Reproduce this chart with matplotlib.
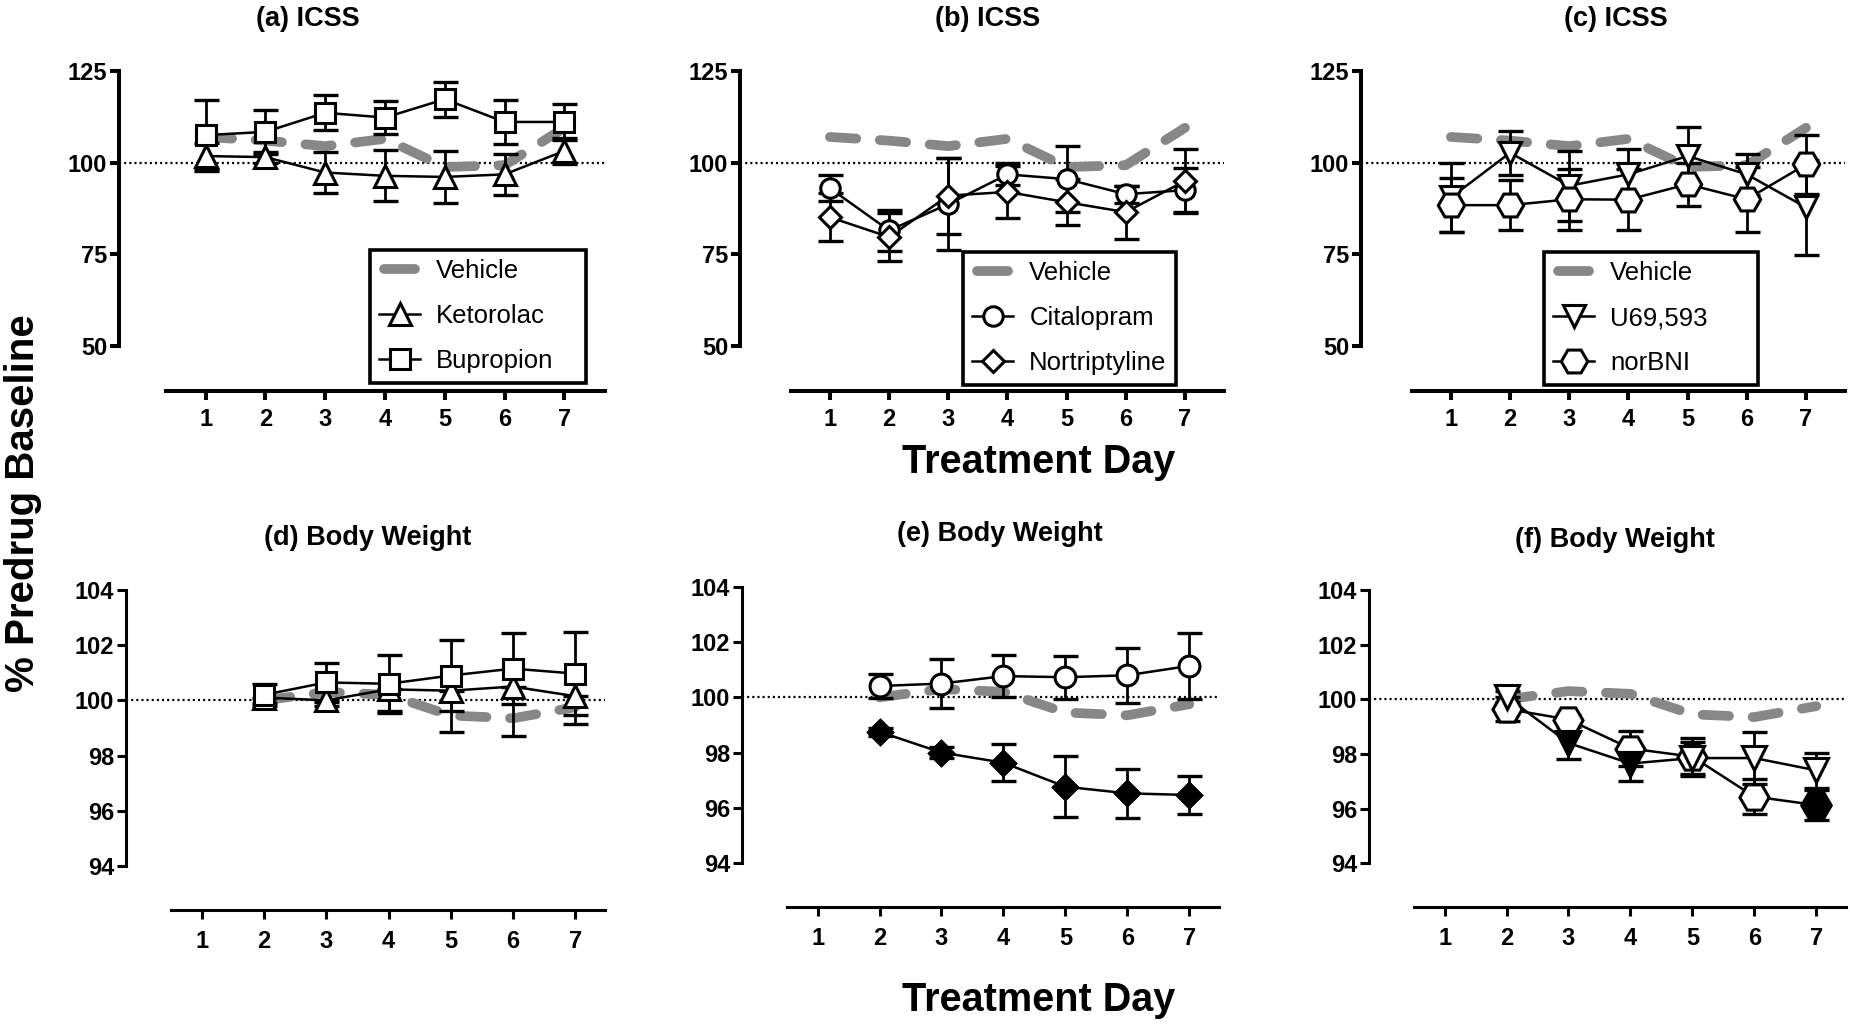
import matplotlib
matplotlib.use("Agg")
import numpy as np
from matplotlib import pyplot as plt
from matplotlib.legend_handler import HandlerLine2D
from matplotlib.lines import Line2D

plt.rcParams["font.family"] = ["Liberation Sans", "DejaVu Sans"]
plt.rcParams["font.weight"] = "bold"
plt.rcParams["lines.scale_dashes"] = False

# ---------------------------------------------------------------- data
days = [1, 2, 3, 4, 5, 6, 7]
bw_days = [2, 3, 4, 5, 6, 7]

icss_ticks = [50, 75, 100, 125]
bw_ticks = [94, 96, 98, 100, 102, 104]

# ICSS (% predrug baseline)
vehicle_icss = [107.0, 106.0, 104.5, 106.5, 98.8, 99.3, 109.5]
ketorolac_icss = [101.8, 101.5, 97.3, 96.4, 96.1, 96.8, 103.2]
ketorolac_icss_err = [3.5, 1.5, 5.6, 7.0, 7.0, 5.5, 3.5]
bupropion_icss = [107.5, 108.4, 113.6, 112.3, 117.3, 111.1, 111.1]
bupropion_icss_err = [9.7, 6.0, 4.8, 4.4, 4.8, 5.9, 4.8]
citalopram_icss = [93.0, 81.5, 88.7, 96.8, 95.5, 91.4, 92.5]
citalopram_icss_err = [3.5, 5.5, 12.6, 3.0, 9.0, 2.3, 6.0]
nortriptyline_icss = [85.1, 79.7, 91.0, 92.0, 89.2, 86.5, 95.0]
nortriptyline_icss_err = [6.5, 6.5, 10.4, 7.2, 6.3, 7.2, 8.8]
u69593_icss = [90.5, 102.7, 93.7, 96.8, 101.8, 96.8, 87.8]
u69593_icss_err = [9.5, 6.0, 9.6, 6.8, 8.0, 5.5, 13.0]
norbni_icss = [88.4, 88.4, 90.0, 89.9, 94.1, 90.0, 99.5]
norbni_icss_err = [7.4, 6.8, 8.3, 8.4, 5.8, 8.8, 8.0]

# Body weight (% predrug baseline), days 2-7
vehicle_bw = [100.0, 100.3, 100.2, 99.45, 99.35, 99.75]
ketorolac_bw = [100.1, 100.0, 100.4, 100.35, 100.5, 100.15]
ketorolac_bw_err = [0.2, 0.2, 0.8, 1.5, 1.8, 1.0]
bupropion_bw = [100.2, 100.65, 100.6, 100.9, 101.15, 100.97]
bupropion_bw_err = [0.4, 0.7, 1.05, 1.3, 1.3, 1.5]
citalopram_bw = [100.41, 100.5, 100.77, 100.73, 100.8, 101.14]
citalopram_bw_err = [0.42, 0.88, 0.75, 0.78, 1.0, 1.2]
nortriptyline_bw = [98.75, 98.0, 97.63, 96.76, 96.52, 96.46]
nortriptyline_bw_err = [0.15, 0.2, 0.68, 1.1, 0.9, 0.7]
u69593_bw = [100.1, 98.4, 97.65, 97.85, 97.85, 97.4]
u69593_bw_err = [0.2, 0.6, 0.65, 0.6, 0.95, 0.65]
norbni_bw = [99.65, 99.26, 98.2, 97.9, 96.44, 96.13]
norbni_bw_err = [0.45, 0.15, 0.65, 0.7, 0.65, 0.55]

# filled symbols (significant vs vehicle)
nortriptyline_bw_sig = [True, True, True, True, True, True]
u69593_bw_sig = [False, True, True, False, False, False]
norbni_bw_sig = [False, False, False, False, False, True]

titles = ["(a) ICSS", "(b) ICSS", "(c) ICSS",
          "(d) Body Weight", "(e) Body Weight", "(f) Body Weight"]
legend_labels = [["Vehicle", "Ketorolac", "Bupropion"],
                 ["Vehicle", "Citalopram", "Nortriptyline"],
                 ["Vehicle", "U69,593", "norBNI"]]

# ---------------------------------------------------------------- layout
FIG_W, FIG_H, DPI = 1850, 1028, 100
GRAY = "#878787"

# (left, top, right, bottom) in pixels
top_boxes = [(119, 71, 605, 391), (740, 71, 1224, 391), (1361, 71, 1845, 391)]
top_xlims = [(-0.45, 7.68), (-0.52, 7.66), (-0.52, 7.66)]
bot_boxes = [(126, 590, 605, 910), (742, 587, 1219, 907), (1369, 590, 1846, 907)]
title_pos = [(308, 26), (988, 26), (1616, 26), (368, 545), (1000, 541), (1615, 547)]
legend_boxes = [(370, 250, 586), (963, 252, 1176), (1544, 252, 1758)]


def px_box(box):
    left, top, right, bottom = box
    return [left / FIG_W, 1 - bottom / FIG_H,
            (right - left) / FIG_W, (bottom - top) / FIG_H]


def setup_axes(ax, xlim, x_start, ylim, yspan, yticks, lw, xpad):
    ax.set_xlim(*xlim)
    ax.set_ylim(*ylim)
    ax.patch.set_visible(False)
    for side in ("top", "right"):
        ax.spines[side].set_visible(False)
    ax.spines["left"].set_bounds(*yspan)
    ax.spines["bottom"].set_bounds(x_start, xlim[1])
    for side in ("left", "bottom"):
        ax.spines[side].set_linewidth(lw)
    ax.set_xticks(days)
    ax.set_yticks(yticks)
    ax.tick_params(axis="both", width=lw, length=6.5, labelsize=17,
                   direction="out")
    ax.tick_params(axis="x", pad=xpad)
    ax.tick_params(axis="y", pad=2)
    # dotted reference line at 100 %
    ax.axhline(100, color="black", lw=1.6, dashes=(1.5, 2.2), zorder=1)


def plot_vehicle(ax, x, y):
    ax.plot(x, y, color=GRAY, lw=7, dashes=(19, 17),
            dash_capstyle="round", zorder=2, clip_on=False)


def plot_series(ax, x, y, err, marker, ms, sig=None, lower_only=False):
    x = np.asarray(x)
    y = np.asarray(y)
    err = np.asarray(err)
    yerr = [err, np.zeros_like(err)] if lower_only else err
    ax.errorbar(x, y, yerr=yerr, fmt="none", ecolor="black", elinewidth=2,
                capsize=9, capthick=2.4, zorder=3, clip_on=False)
    ax.plot(x, y, color="black", lw=1.8, zorder=4, clip_on=False)
    ax.plot(x, y, ls="none", marker=marker, ms=ms, mfc="white",
            mec="black", mew=2.2, zorder=5, clip_on=False)
    if sig is not None:
        sig = np.asarray(sig)
        ax.plot(x[sig], y[sig], ls="none", marker=marker, ms=ms, mfc="black",
                mec="black", mew=2.2, zorder=6, clip_on=False)


def add_legend(ax, fig, labels, markers, sizes, box):
    left, top, right = box
    handles = [Line2D([], [], color=GRAY, lw=7, solid_capstyle="round")]
    for marker, ms in zip(markers, sizes):
        handles.append(Line2D([], [], color="black", lw=1.8, marker=marker,
                              ms=ms, mfc="white", mec="black", mew=2.2))
    leg = ax.legend(
        handles, labels,
        loc="upper left",
        bbox_to_anchor=(left / FIG_W, 1 - top / FIG_H,
                        (right - left) / FIG_W, 0.0),
        bbox_transform=fig.transFigure,
        mode="expand",
        borderaxespad=0.0,
        prop={"size": 18.5, "weight": "normal"},
        frameon=True,
        fancybox=False,
        framealpha=1.0,
        edgecolor="black",
        borderpad=0.36,
        labelspacing=0.82,
        handlelength=1.6,
        handletextpad=0.62,
        handler_map={handles[0]: HandlerLine2D(numpoints=2, marker_pad=0.2)},
    )
    leg.get_frame().set_linewidth(2.6)
    leg.set_zorder(20)


fig = plt.figure(figsize=(FIG_W / DPI, FIG_H / DPI), dpi=DPI)

top_axes = [fig.add_axes(px_box(b)) for b in top_boxes]
bot_axes = [fig.add_axes(px_box(b)) for b in bot_boxes]

for ax, xlim in zip(top_axes, top_xlims):
    setup_axes(ax, xlim, 0.34, (37.7, 125), (50, 125), icss_ticks, 2.9, 6)
for ax in bot_axes:
    setup_axes(ax, (-0.22, 7.48), 0.5, (92.4, 104), (94, 104),
               bw_ticks, 2.2, 8)

# ---- ICSS row
ax = top_axes[0]
plot_vehicle(ax, days, vehicle_icss)
plot_series(ax, days, ketorolac_icss, ketorolac_icss_err, "^", 16)
plot_series(ax, days, bupropion_icss, bupropion_icss_err, "s", 14)
add_legend(ax, fig, legend_labels[0], ["^", "s"], [16, 14], legend_boxes[0])

ax = top_axes[1]
plot_vehicle(ax, days, vehicle_icss)
plot_series(ax, days, citalopram_icss, citalopram_icss_err, "o", 14)
plot_series(ax, days, nortriptyline_icss, nortriptyline_icss_err, "D", 11)
add_legend(ax, fig, legend_labels[1], ["o", "D"], [14, 11], legend_boxes[1])

ax = top_axes[2]
plot_vehicle(ax, days, vehicle_icss)
plot_series(ax, days, u69593_icss, u69593_icss_err, "v", 16)
plot_series(ax, days, norbni_icss, norbni_icss_err, "H", 19)
add_legend(ax, fig, legend_labels[2], ["v", "H"], [16, 19], legend_boxes[2])

# ---- body weight row
ax = bot_axes[0]
plot_vehicle(ax, bw_days, vehicle_bw)
plot_series(ax, bw_days, ketorolac_bw, ketorolac_bw_err, "^", 16,
            lower_only=True)
plot_series(ax, bw_days, bupropion_bw, bupropion_bw_err, "s", 15)

ax = bot_axes[1]
plot_vehicle(ax, bw_days, vehicle_bw)
plot_series(ax, bw_days, citalopram_bw, citalopram_bw_err, "o", 15)
plot_series(ax, bw_days, nortriptyline_bw, nortriptyline_bw_err, "D", 12,
            sig=nortriptyline_bw_sig)

ax = bot_axes[2]
plot_vehicle(ax, bw_days, vehicle_bw)
plot_series(ax, bw_days, norbni_bw, norbni_bw_err, "H", 21, sig=norbni_bw_sig)
plot_series(ax, bw_days, u69593_bw, u69593_bw_err, "v", 17, sig=u69593_bw_sig)

# ---- titles and shared labels
for (x, y), title in zip(title_pos, titles):
    fig.text(x / FIG_W, 1 - y / FIG_H, title, ha="center", va="baseline",
             fontsize=19.5, fontweight="bold")

fig.text(1039 / FIG_W, 1 - 462 / FIG_H, "Treatment Day", ha="center",
         va="center", fontsize=28.5, fontweight="bold")
fig.text(1039 / FIG_W, 1 - 1000 / FIG_H, "Treatment Day", ha="center",
         va="center", fontsize=28.5, fontweight="bold")
fig.text(23 / FIG_W, 1 - 503 / FIG_H, "% Predrug Baseline", ha="center",
         va="center", rotation=90, fontsize=29, fontweight="bold")

fig.savefig("out.png", dpi=DPI)
